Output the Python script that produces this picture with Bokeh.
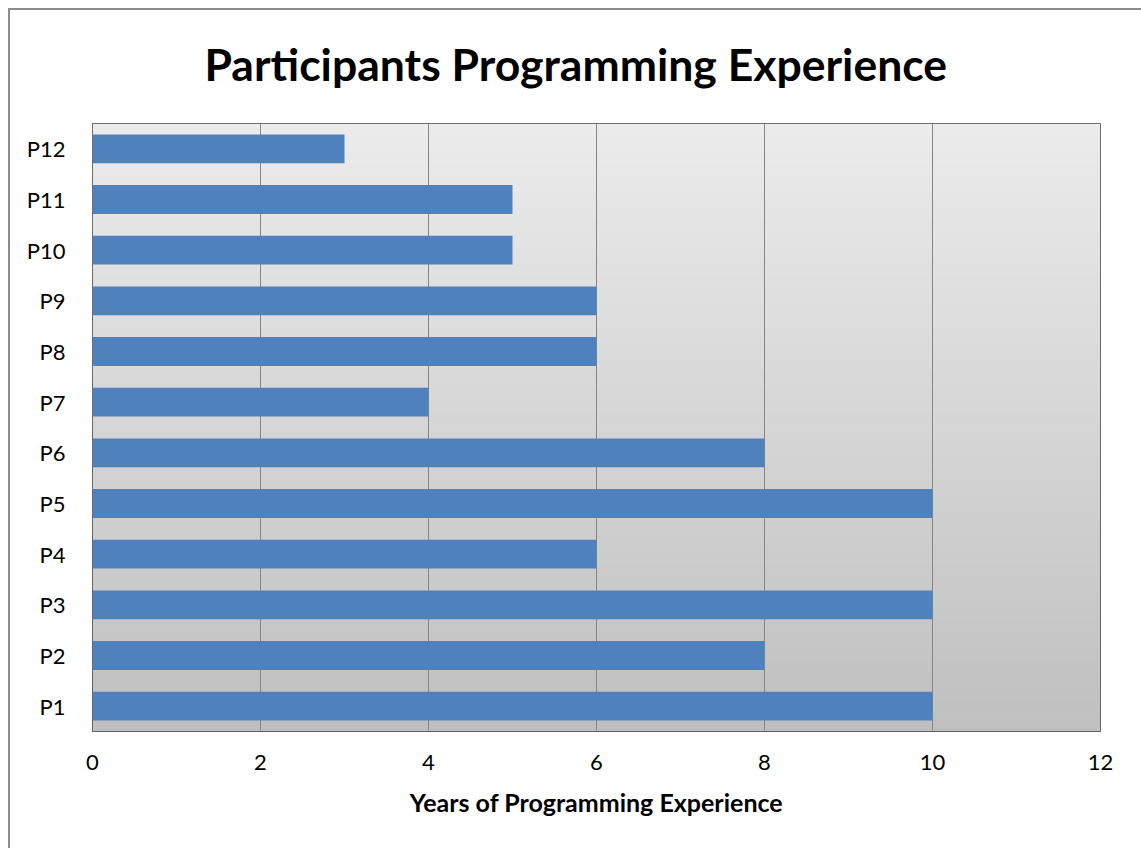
import numpy as np
from bokeh.plotting import figure
from bokeh.models import FactorRange, Range1d, FixedTicker, InlineStyleSheet
from bokeh.embed import file_html
from bokeh.resources import INLINE

participants = ["P1", "P2", "P3", "P4", "P5", "P6", "P7", "P8", "P9", "P10", "P11", "P12"]
years = [10, 8, 10, 6, 10, 8, 4, 6, 6, 5, 5, 3]
x_ticks = [0, 2, 4, 6, 8, 10, 12]

FONT = "Lato"

p = figure(width=1141, height=848, output_backend="svg", toolbar_location=None,
           y_range=FactorRange(*participants), x_range=Range1d(0, 12),
           min_border_left=92, min_border_right=41, min_border_top=122, min_border_bottom=117,
           title="Participants Programming Experience")

# gradient background of the plot area
n = 256
t = np.linspace(0, 1, n)
top_c = np.array([236, 236, 236])
bot_c = np.array([192, 192, 192])
cols = (bot_c[None, :] * (1 - t[:, None]) + top_c[None, :] * t[:, None]).astype(np.uint32)
img = np.empty((n, 1), dtype=np.uint32)
view = img.view(dtype=np.uint8).reshape((n, 1, 4))
view[:, 0, 0] = cols[:, 0]
view[:, 0, 1] = cols[:, 1]
view[:, 0, 2] = cols[:, 2]
view[:, 0, 3] = 255
bg = p.image_rgba(image=[img], x=0, y=0, dw=12, dh=len(participants))
bg.level = "image"

p.hbar(y=participants, right=years, left=0, height=0.57, fill_color="#4f81bd", line_color=None)

p.title.text_font = FONT
p.title.text_font_size = "44.5px"
p.title.text_font_style = "bold"
p.title.align = "left"
p.title.offset = 112
p.title.text_color = "#000000"
p.title.standoff = 68

p.xaxis.ticker = FixedTicker(ticks=x_ticks)
p.xaxis.axis_label = "Years of Programming Experience"
p.xaxis.axis_label_text_font = FONT
p.xaxis.axis_label_text_font_style = "bold"
p.xaxis.axis_label_text_font_size = "25px"
p.xaxis.axis_label_text_color = "#000000"
p.xaxis.axis_label_standoff = 14
for ax in (p.xaxis[0], p.yaxis[0]):
    ax.major_label_text_font = FONT
    ax.major_label_text_font_size = "22px"
    ax.major_label_text_color = "#000000"
    ax.axis_line_color = None
    ax.major_tick_line_color = None
    ax.minor_tick_line_color = None
p.xaxis.major_label_standoff = 17
p.yaxis.major_label_standoff = 21

p.xgrid.grid_line_color = "#858585"
p.xgrid.grid_line_width = 1
p.ygrid.grid_line_color = None

p.outline_line_color = "#444444"
p.outline_line_width = 1
p.background_fill_color = "#e0e0e0"
p.border_fill_color = None

p.css_classes = ["outerbox"]
p.stylesheets = [InlineStyleSheet(css=(
    ":host(.outerbox) { overflow: hidden; background:"
    " linear-gradient(#8c8c8c, #8c8c8c) 8px 8px / 2px 840px no-repeat,"
    " linear-gradient(#8c8c8c, #8c8c8c) 8px 8px / 1133px 2px no-repeat,"
    " #ffffff; }"))]

open("out.html", "w").write(file_html(p, INLINE))
